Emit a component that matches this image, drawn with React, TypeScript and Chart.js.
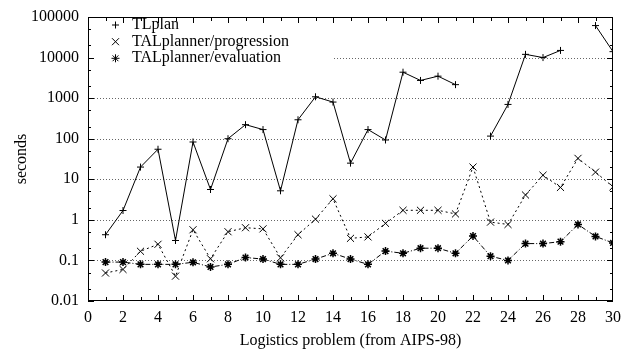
import React, { useEffect, useRef } from 'react';
import { Chart, registerables } from 'chart.js';

Chart.register(...registerables);

const problems = [1, 2, 3, 4, 5, 6, 7, 8, 9, 10, 11, 12, 13, 14, 15, 16, 17, 18, 19, 20, 21, 22, 23, 24, 25, 26, 27, 28, 29, 30];
const tlplan = [0.43, 1.7, 20, 55, 0.31, 83, 5.6, 100, 222, 168, 5.2, 293, 1080, 800, 25, 168, 93, 4360, 2730, 3480, 2150, null, 116, 700, 12000, 10000, 15000, null, 61500, 14000];
const progression = [0.049, 0.06, 0.168, 0.25, 0.041, 0.57, 0.11, 0.51, 0.64, 0.6, 0.116, 0.43, 1.04, 3.3, 0.35, 0.38, 0.82, 1.72, 1.72, 1.72, 1.4, 20, 0.88, 0.77, 4.1, 12.6, 6.3, 32.8, 15, 6.5];
const evaluation = [0.091, 0.091, 0.08, 0.08, 0.08, 0.09, 0.069, 0.08, 0.118, 0.108, 0.08, 0.08, 0.108, 0.15, 0.108, 0.08, 0.17, 0.15, 0.2, 0.2, 0.15, 0.4, 0.127, 0.1, 0.26, 0.26, 0.29, 0.77, 0.39, 0.27];
const seriesNames = ['TLplan', 'TALplanner/progression', 'TALplanner/evaluation'];
const yTicks = [0.01, 0.1, 1, 10, 100, 1000, 10000, 100000];
const xTicks = [0, 2, 4, 6, 8, 10, 12, 14, 16, 18, 20, 22, 24, 26, 28, 30];
const xTitle = 'Logistics problem (from AIPS-98)';
const yTitle = 'seconds';

const FONT = 'Liberation Serif';

function drawMarker(ctx: CanvasRenderingContext2D, kind: number, cx: number, cy: number) {
  ctx.beginPath();
  if (kind === 0 || kind === 2) {
    const r = kind === 0 ? 3.5 : 4;
    ctx.moveTo(cx - r, cy); ctx.lineTo(cx + r, cy);
    ctx.moveTo(cx, cy - r); ctx.lineTo(cx, cy + r);
  }
  if (kind === 1 || kind === 2) {
    const r = kind === 1 ? 3.5 : 2.9;
    ctx.moveTo(cx - r, cy - r); ctx.lineTo(cx + r, cy + r);
    ctx.moveTo(cx - r, cy + r); ctx.lineTo(cx + r, cy - r);
  }
  ctx.stroke();
}

const framePlugin = {
  id: 'gnuframe',
  beforeDatasetsDraw(chart: any) {
    const { ctx, chartArea: a, scales } = chart;
    const y = scales.y;
    ctx.save();
    ctx.strokeStyle = '#666';
    ctx.lineWidth = 1;
    ctx.setLineDash([1, 2]);
    for (const v of yTicks) {
      const py = Math.round(y.getPixelForValue(v)) + 0.5;
      if (py <= a.top + 2 || py >= a.bottom - 2) continue;
      ctx.beginPath();
      ctx.moveTo(a.left, py);
      ctx.lineTo(a.right, py);
      ctx.stroke();
    }
    ctx.setLineDash([]);
    // legend box hides the grid behind the key
    ctx.fillStyle = '#fff';
    ctx.fillRect(a.left + 1, a.top + 1, 333 - a.left, 54);
    ctx.restore();
  },
  afterDatasetsDraw(chart: any) {
    const { ctx, chartArea: a, scales } = chart;
    const x = scales.x;
    const y = scales.y;
    ctx.save();
    ctx.strokeStyle = '#000';
    ctx.lineWidth = 1;
    ctx.setLineDash([]);
    ctx.strokeRect(a.left + 0.5, a.top + 0.5, a.right - a.left - 1, a.bottom - a.top - 1);
    // x ticks, every unit, top and bottom, inward
    ctx.beginPath();
    for (let v = 1; v < 30; v++) {
      const px = Math.round(x.getPixelForValue(v)) + 0.5;
      const len = v % 2 === 0 ? 6 : 4;
      ctx.moveTo(px, a.bottom); ctx.lineTo(px, a.bottom - len);
      ctx.moveTo(px, a.top); ctx.lineTo(px, a.top + len);
    }
    // y ticks left and right, inward
    for (let i = 0; i < yTicks.length; i++) {
      const v = yTicks[i];
      const py = Math.round(y.getPixelForValue(v)) + 0.5;
      ctx.moveTo(a.left, py); ctx.lineTo(a.left + 6, py);
      ctx.moveTo(a.right, py); ctx.lineTo(a.right - 6, py);
      if (i < yTicks.length - 1) {
        for (const m of [2, 5]) {
          const pm = Math.round(y.getPixelForValue(v * m)) + 0.5;
          ctx.moveTo(a.left, pm); ctx.lineTo(a.left + 3, pm);
          ctx.moveTo(a.right, pm); ctx.lineTo(a.right - 3, pm);
        }
      }
    }
    ctx.stroke();
    // key
    ctx.font = `16px "${FONT}"`;
    ctx.fillStyle = '#000';
    ctx.textAlign = 'left';
    ctx.textBaseline = 'alphabetic';
    const rowsY = [25, 41.7, 58.3];
    seriesNames.forEach((name, i) => {
      drawMarker(ctx, i, 115.5, rowsY[i]);
      ctx.fillText(name, 132, rowsY[i] + 3.8);
    });
    ctx.restore();
  },
};

export default function App() {
  const ref = useRef<HTMLCanvasElement | null>(null);
  useEffect(() => {
    document.body.style.margin = '0';
    const canvas = ref.current;
    if (!canvas) return;
    const toPts = (arr: (number | null)[]) => problems.map((p, i) => ({ x: p, y: arr[i] }));
    const tickFont = { family: FONT, size: 16, lineHeight: 1 };
    const chart = new Chart(canvas, {
      type: 'line',
      data: {
        datasets: [
          {
            label: seriesNames[0],
            data: toPts(tlplan) as any,
            borderColor: '#000',
            borderWidth: 1,
            pointStyle: 'cross',
            pointRadius: 3.5,
            pointBorderColor: '#000',
            pointBorderWidth: 1,
            fill: false,
            spanGaps: false,
            tension: 0,
          },
          {
            label: seriesNames[1],
            data: toPts(progression) as any,
            borderColor: '#000',
            borderWidth: 1,
            borderDash: [2, 3],
            pointStyle: 'crossRot',
            pointRadius: 5,
            pointBorderColor: '#000',
            pointBorderWidth: 1,
            fill: false,
            tension: 0,
          },
          {
            label: seriesNames[2],
            data: toPts(evaluation) as any,
            borderColor: '#000',
            borderWidth: 1,
            borderDash: [5, 2, 1, 2],
            pointStyle: 'star',
            pointRadius: 4,
            pointBorderColor: '#000',
            pointBorderWidth: 1.5,
            fill: false,
            tension: 0,
          },
        ],
      },
      options: {
        responsive: false,
        animation: false,
        devicePixelRatio: 1,
        layout: { padding: { top: 13, right: 21, left: 0, bottom: 0 } },
        plugins: {
          legend: { display: false },
          tooltip: { enabled: false },
        },
        scales: {
          x: {
            type: 'linear',
            min: 0,
            max: 30,
            afterBuildTicks: (s: any) => {
              s.ticks = xTicks.map((v) => ({ value: v }));
            },
            afterFit: (s: any) => {
              s.height = 51;
            },
            grid: { display: false, drawTicks: false },
            border: { display: false },
            ticks: {
              font: tickFont,
              color: '#000',
              padding: 9,
              maxRotation: 0,
              autoSkip: false,
              callback: (v: any) => String(v),
            },
            title: {
              display: true,
              text: xTitle,
              font: tickFont,
              color: '#000',
              padding: { top: 0, bottom: 3 },
            },
          },
          y: {
            type: 'logarithmic',
            min: 0.01,
            max: 100000,
            afterBuildTicks: (s: any) => {
              s.ticks = yTicks.map((v) => ({ value: v }));
            },
            afterFit: (s: any) => {
              s.width = 88;
            },
            grid: { display: false, drawTicks: false },
            border: { display: false },
            ticks: {
              font: tickFont,
              color: '#000',
              padding: 9,
              autoSkip: false,
              callback: (v: any) => String(v),
            },
            title: {
              display: true,
              text: yTitle,
              font: tickFont,
              color: '#000',
              padding: { top: 14, bottom: 0 },
            },
          },
        },
      },
      plugins: [framePlugin],
    } as any);
    return () => chart.destroy();
  }, []);
  return (
    <div style={{ width: 634, height: 352 }}>
      <canvas ref={ref} width={634} height={352} style={{ display: 'block', width: 634, height: 352 }} />
    </div>
  );
}
